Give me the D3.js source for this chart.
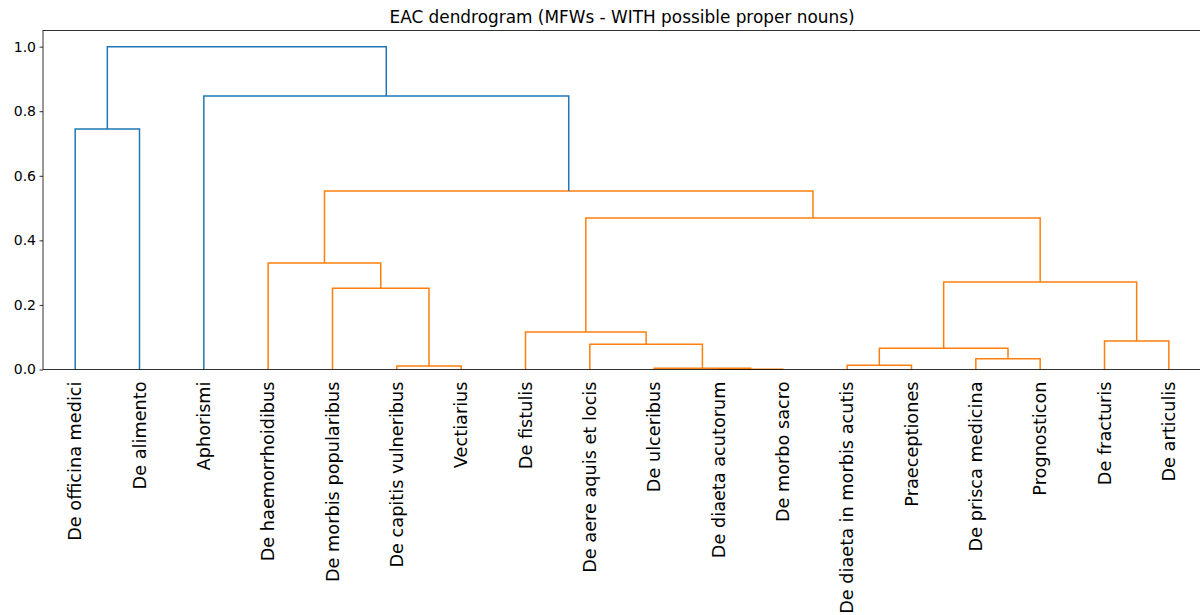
<!DOCTYPE html>
<html>
<head>
<meta charset="utf-8">
<script src="https://cdn.jsdelivr.net/npm/d3@7"></script>
<style>
  body { margin: 0; background: #fff; }
  svg { font-family: "DejaVu Sans", sans-serif; display: block; }
</style>
</head>
<body>
<div id="chart"></div>
<script>
var leaves = ["De officina medici", "De alimento", "Aphorismi", "De haemorrhoidibus",
  "De morbis popularibus", "De capitis vulneribus", "Vectiarius", "De fistulis",
  "De aere aquis et locis", "De ulceribus", "De diaeta acutorum", "De morbo sacro",
  "De diaeta in morbis acutis", "Praeceptiones", "De prisca medicina", "Prognosticon",
  "De fracturis", "De articulis"];

// merges: [left node, right node], node ids 0..17 are leaves, 18.. are merges in order
var mergePairs = [[10, 11], [9, 18], [5, 6], [12, 13], [14, 15], [21, 22], [8, 19],
  [16, 17], [7, 24], [4, 20], [23, 25], [3, 27], [26, 28], [29, 30], [0, 1], [2, 31], [32, 33]];
var mergeHeights = [0.001, 0.004, 0.011, 0.013, 0.033, 0.066, 0.078,
  0.088, 0.116, 0.252, 0.271, 0.33, 0.469, 0.553, 0.745, 0.847, 1.0];

var yTicks = [0, 0.2, 0.4, 0.6, 0.8, 1.0];
var title = "EAC dendrogram (MFWs - WITH possible proper nouns)";
var threshold = 0.7;

var width = 1200, height = 615;
var mLeft = 43, mRight = 1201, mTop = 30.5, mBottom = 369.5;

var svg = d3.select("#chart").append("svg")
  .attr("width", width)
  .attr("height", height);

var x = d3.scaleLinear().domain([0, leaves.length * 10]).range([mLeft, mRight]);
var y = d3.scaleLinear().domain([0, 1.05]).range([mBottom, mTop]);

// node positions
var nodeX = leaves.map((d, i) => 5 + i * 10);
var nodeH = leaves.map(() => 0);
var links = [];
mergePairs.forEach(function (p, i) {
  var h = mergeHeights[i];
  links.push({ a: p[0], b: p[1], h: h });
  nodeX.push((nodeX[p[0]] + nodeX[p[1]]) / 2);
  nodeH.push(h);
});

var g = svg.append("g");

g.selectAll("path.link")
  .data(links)
  .enter()
  .append("path")
  .attr("class", "link")
  .attr("fill", "none")
  .attr("stroke", d => d.h > threshold ? "#1f77b4" : "#ff7f0e")
  .attr("stroke-width", 1.5)
  .attr("d", function (d) {
    var x1 = x(nodeX[d.a]), x2 = x(nodeX[d.b]);
    return "M" + x1 + "," + y(nodeH[d.a]) + "L" + x1 + "," + y(d.h) +
      "L" + x2 + "," + y(d.h) + "L" + x2 + "," + y(nodeH[d.b]);
  });

// y axis
var yAxis = d3.axisLeft(y)
  .tickValues(yTicks)
  .tickFormat(d3.format(".1f"))
  .tickSize(3.5)
  .tickPadding(3.5);

var ya = svg.append("g")
  .attr("transform", "translate(" + mLeft + ",0)")
  .call(yAxis);
ya.select(".domain").remove();
ya.selectAll("line").attr("stroke", "#000").attr("stroke-width", 0.8);
ya.selectAll("text")
  .attr("font-size", "14px")
  .attr("font-family", "DejaVu Sans")
  .attr("fill", "#000");

// spines
svg.append("rect")
  .attr("x", mLeft)
  .attr("y", mTop)
  .attr("width", mRight - mLeft)
  .attr("height", mBottom - mTop)
  .attr("fill", "none")
  .attr("stroke", "#000")
  .attr("stroke-width", 0.8);

// leaf labels
svg.selectAll("text.leaf")
  .data(leaves)
  .enter()
  .append("text")
  .attr("class", "leaf")
  .attr("transform", (d, i) => "translate(" + x(nodeX[i]) + "," + (mBottom + 12) + ") rotate(-90)")
  .attr("text-anchor", "end")
  .attr("dy", "0.35em")
  .attr("font-size", "17.7px")
  .attr("fill", "#000")
  .text(d => d);

svg.append("text")
  .attr("x", (mLeft + mRight) / 2)
  .attr("y", 23)
  .attr("text-anchor", "middle")
  .attr("font-size", "16.9px")
  .attr("fill", "#000")
  .text(title);
</script>
</body>
</html>
